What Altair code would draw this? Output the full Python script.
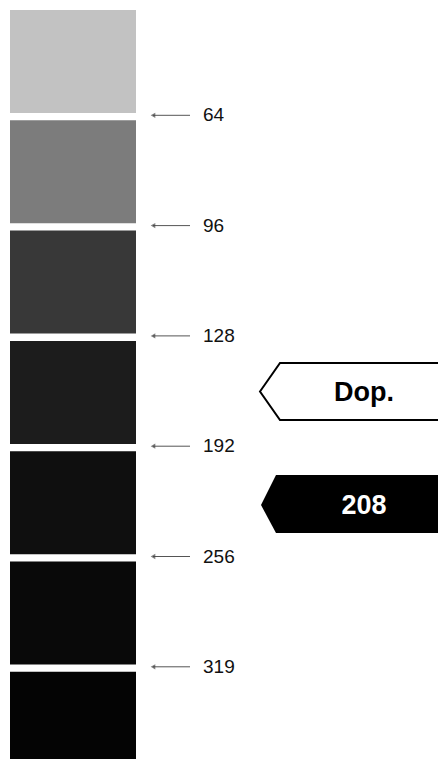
import altair as alt
import pandas as pd

# ---- data ----
swatch_index = [0, 1, 2, 3, 4, 5, 6]
swatch_gray = ["#c2c2c2", "#7c7c7c", "#383838", "#1c1c1c", "#0f0f0f", "#090909", "#040404"]
level_labels = ["64", "96", "128", "192", "256", "319"]
callout_outline_text = ["Dop."]
callout_filled_text = ["208"]

# ---- layout (pixel units of the plot area) ----
W, H = 430, 751
TOP0, PITCH, SW_H = 2.0, 110.3, 103.0
SW_X0, SW_X1 = 2, 128

xs = alt.Scale(domain=[0, W], nice=False, zero=False)
ys = alt.Scale(domain=[0, H], nice=False, zero=False, reverse=True)
X = lambda f: alt.X(f, type="quantitative", scale=xs, axis=None)
Y = lambda f: alt.Y(f, type="quantitative", scale=ys, axis=None)

sw = pd.DataFrame({"i": swatch_index, "c": swatch_gray})
swatches = alt.Chart(sw).transform_calculate(
    top=f"{TOP0} + {PITCH} * datum.i",
    bot=f"{TOP0} + {PITCH} * datum.i + {SW_H}",
    x0=f"{SW_X0}", x1=f"{SW_X1}",
).mark_rect(clip=True).encode(
    x=X("x0:Q"), x2="x1:Q", y=Y("top:Q"), y2="bot:Q",
    color=alt.Color("c:N", scale=None),
)

lab = pd.DataFrame({"k": list(range(len(level_labels))), "t": level_labels})
lab_base = alt.Chart(lab).transform_calculate(
    yy=f"{TOP0} + {PITCH} * (datum.k + 1) - 5",
    ax0="145", ax1="182", tx="195",
)
arrows = lab_base.mark_rule(color="#555555", strokeWidth=1).encode(
    x=X("ax0:Q"), x2="ax1:Q", y=Y("yy:Q"),
)
heads = lab_base.mark_point(shape="triangle-left", filled=True, color="#444444", size=28).encode(
    x=X("ax0:Q"), y=Y("yy:Q"),
)
labels = lab_base.mark_text(align="left", baseline="middle", font="Liberation Sans",
                            fontSize=19, color="#111111").encode(
    x=X("tx:Q"), y=Y("yy:Q"), text="t:N",
)

# outlined callout
dop_shape = pd.DataFrame({"x": [252, 272, 445], "y": [383.5, 355, 355], "y2": [383.5, 412, 412]})
dop_box = alt.Chart(dop_shape).mark_area(fill="white", stroke="black", strokeWidth=2,
                                          interpolate="linear").encode(
    x=X("x:Q"), y=Y("y:Q"), y2="y2:Q",
)
dop_txt = alt.Chart(pd.DataFrame({"t": callout_outline_text})).mark_text(
    font="Liberation Sans", fontWeight="bold", fontSize=27, color="black",
    align="center", baseline="middle",
).encode(x=alt.value(356), y=alt.value(385), text="t:N")

# filled callout
f_shape = pd.DataFrame({"x": [253, 268, 445], "y": [497, 467, 467], "y2": [497, 525, 525]})
f_box = alt.Chart(f_shape).mark_area(fill="black", interpolate="linear").encode(
    x=X("x:Q"), y=Y("y:Q"), y2="y2:Q",
)
f_txt = alt.Chart(pd.DataFrame({"t": callout_filled_text})).mark_text(
    font="Liberation Sans", fontWeight="bold", fontSize=27, color="white",
    align="center", baseline="middle",
).encode(x=alt.value(356), y=alt.value(498), text="t:N")

chart = alt.layer(
    swatches, arrows, heads, labels, dop_box, dop_txt, f_box, f_txt
).properties(
    width=W, height=H, padding=0, autosize=alt.AutoSizeParams(type="none"),
).configure_view(stroke=None)

chart.save("out.html", embed_options={"renderer": "svg", "actions": False})
